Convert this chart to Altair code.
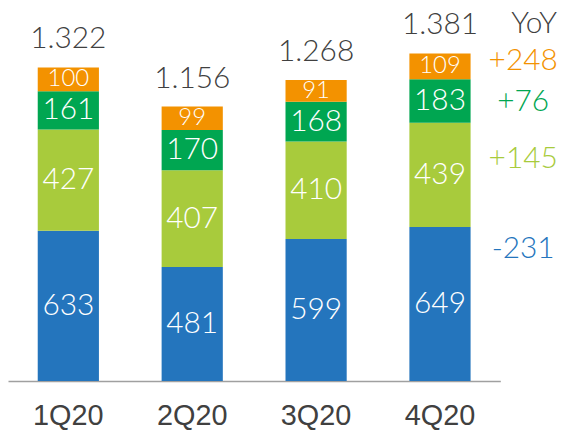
import altair as alt
import pandas as pd

quarters = ["1Q20", "2Q20", "3Q20", "4Q20"]
series = ["blue", "lightgreen", "green", "orange"]
blue = [633, 481, 599, 649]
lightgreen = [427, 407, 410, 439]
green = [161, 170, 168, 183]
orange = [100, 99, 91, 109]
total_values = [1322, 1156, 1268, 1381]
total_labels = ["1.322", "1.156", "1.268", "1.381"]
yoy_header = "YoY"
yoy_labels = ["+248", "+76", "+145", "-231"]

colors = ["#2475BD", "#A8CB3C", "#00A651", "#F39200"]
text_dark = "#404040"
FONT = "Lato"
W = 300

# build the long table from the arrays
rows = []
vals = {"blue": blue, "lightgreen": lightgreen, "green": green, "orange": orange}
for i, q in enumerate(quarters):
    base = 0
    for k, s in enumerate(series):
        v = vals[s][i]
        rows.append({"quarter": q, "series": s, "order": k, "value": v,
                     "start": base, "end": base + v, "mid": base + v / 2,
                     "label": str(v)})
        base += v
df = pd.DataFrame(rows)
tot = pd.DataFrame({"quarter": quarters, "total": total_values, "label": total_labels})

x = alt.X("quarter:N", sort=quarters, title=None,
          scale=alt.Scale(paddingInner=0.506, paddingOuter=0.24),
          axis=alt.Axis(labelAngle=0, ticks=False, domainColor="#A0A0A0", domainWidth=1.5,
                        labelFont="Liberation Sans", labelFontSize=29, labelFontWeight="normal",
                        labelColor=text_dark, labelPadding=21, grid=False))
yscale = alt.Scale(domain=[0, 1550], nice=False, zero=True)

bars = alt.Chart(df).mark_bar().encode(
    x=x,
    y=alt.Y("start:Q", scale=yscale, axis=None),
    y2="end:Q",
    color=alt.Color("series:N", scale=alt.Scale(domain=series, range=colors), legend=None),
)

inner_big = alt.Chart(df).transform_filter("datum.series != 'orange'").mark_text(
    font=FONT, fontWeight=W, fontSize=30, color="white", baseline="middle"
).encode(x=alt.X("quarter:N", sort=quarters), y=alt.Y("mid:Q", scale=yscale), text="label:N")

inner_small = alt.Chart(df).transform_filter("datum.series == 'orange'").mark_text(
    font=FONT, fontWeight=W, fontSize=24, color="white", baseline="middle"
).encode(x=alt.X("quarter:N", sort=quarters), y=alt.Y("mid:Q", scale=yscale), text="label:N")

totals = alt.Chart(tot).mark_text(
    font=FONT, fontWeight=W, fontSize=30, color=text_dark, baseline="alphabetic", dy=-19
).encode(x=alt.X("quarter:N", sort=quarters), y=alt.Y("total:Q", scale=yscale), text="label:N")

layers = [bars, inner_big, inner_small, totals]

# YoY annotation column
yoy_colors = [colors[3], colors[2], colors[1], colors[0]]
yoy_y_px = [48, 89, 147, 237]
header = alt.Chart(pd.DataFrame({"t": [yoy_header]})).mark_text(
    font=FONT, fontWeight=W, fontSize=30, color=text_dark, baseline="middle"
).encode(x=alt.value(529), y=alt.value(11), text="t:N")
layers.append(header)
for lab, col, ypx in zip(yoy_labels, yoy_colors, yoy_y_px):
    layers.append(
        alt.Chart(pd.DataFrame({"t": [lab]})).mark_text(
            font=FONT, fontWeight=W, fontSize=30, color=col, baseline="middle"
        ).encode(x=alt.value(518), y=alt.value(ypx), text="t:N")
    )

chart = alt.layer(*layers).properties(
    width=495, height=370,
    autosize=alt.AutoSizeParams(type="none"),
    padding={"left": 0, "top": 4, "right": 59, "bottom": 48},
).configure_view(stroke=None)

chart.save("out.html", embed_options={"renderer": "svg", "actions": False})
